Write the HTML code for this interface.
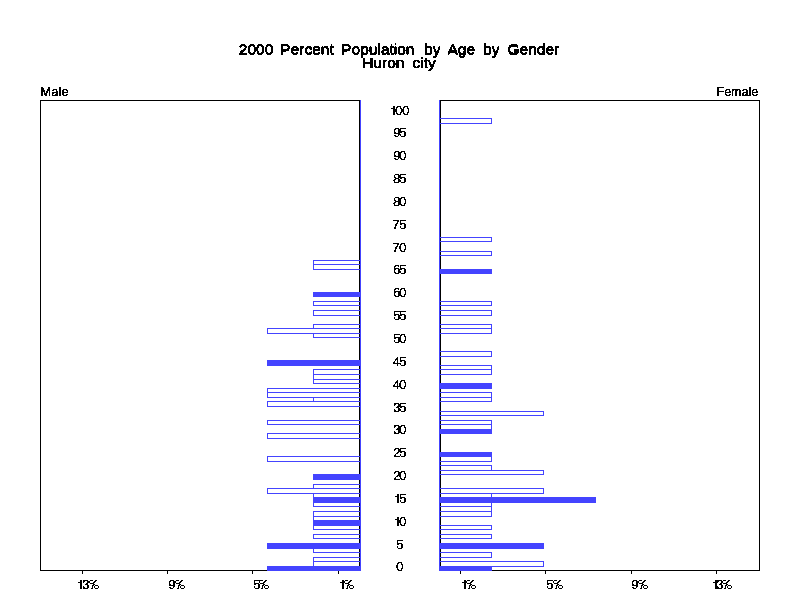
<!DOCTYPE html>
<html><head><meta charset="utf-8"><title>2000 Percent Population by Age by Gender</title>
<style>
html,body{margin:0;padding:0;background:#fff;}
body{width:800px;height:600px;position:relative;overflow:hidden;font-family:"Liberation Sans",sans-serif;color:#000;}
svg{position:absolute;left:0;top:0;}
.t{position:absolute;white-space:nowrap;line-height:1;}
.title{left:0;width:798px;text-align:center;font-size:15.5px;word-spacing:3.7px;-webkit-text-stroke:0.45px #000;}
.age{left:350px;width:100px;text-align:center;font-size:12.5px;}
.xl{font-size:12.5px;}
.lab{font-size:12.5px;-webkit-text-stroke:0.25px #000;letter-spacing:0.35px;}
.g{position:absolute;font-size:12.5px;line-height:1;transform-origin:0 0;white-space:nowrap;-webkit-text-stroke:0.14px #000;}
</style></head><body>
<svg width="800" height="600" viewBox="0 0 800 600" shape-rendering="crispEdges">
<defs><filter id="thr" x="0" y="0" width="100%" height="100%" color-interpolation-filters="sRGB"><feComponentTransfer><feFuncA type="discrete" tableValues="0 0 1 1 1"/></feComponentTransfer></filter><filter id="thr2" x="0" y="0" width="100%" height="100%" color-interpolation-filters="sRGB"><feComponentTransfer><feFuncA type="discrete" tableValues="0 0 0 0 0 0 0 1 1 1 1 1 1 1 1 1"/></feComponentTransfer></filter></defs>
<rect x="40" y="100" width="320" height="1" fill="#000"/>
<rect x="40" y="570" width="320" height="1" fill="#000"/>
<rect x="40" y="100" width="1" height="471" fill="#000"/>
<rect x="359" y="100" width="1" height="471" fill="#000"/>
<rect x="440" y="100" width="320" height="1" fill="#000"/>
<rect x="440" y="570" width="320" height="1" fill="#000"/>
<rect x="440" y="100" width="1" height="471" fill="#000"/>
<rect x="759" y="100" width="1" height="471" fill="#000"/>
<rect x="338" y="571" width="1" height="3" fill="#000"/>
<rect x="460" y="571" width="1" height="3" fill="#000"/>
<rect x="252" y="571" width="1" height="3" fill="#000"/>
<rect x="545" y="571" width="1" height="3" fill="#000"/>
<rect x="167" y="571" width="1" height="3" fill="#000"/>
<rect x="631" y="571" width="1" height="3" fill="#000"/>
<rect x="82" y="571" width="1" height="3" fill="#000"/>
<rect x="716" y="571" width="1" height="3" fill="#000"/>
<rect x="360" y="100" width="1" height="471" fill="#4444ff"/>
<rect x="439" y="100" width="1" height="471" fill="#4444ff"/>
<rect x="313" y="260" width="48" height="1" fill="#4444ff"/>
<rect x="313" y="264" width="48" height="1" fill="#4444ff"/>
<rect x="313" y="260" width="1" height="5" fill="#4444ff"/>
<rect x="313" y="264" width="48" height="1" fill="#4444ff"/>
<rect x="313" y="269" width="48" height="1" fill="#4444ff"/>
<rect x="313" y="264" width="1" height="6" fill="#4444ff"/>
<rect x="313" y="292" width="48" height="5" fill="#4444ff"/>
<rect x="313" y="301" width="48" height="1" fill="#4444ff"/>
<rect x="313" y="305" width="48" height="1" fill="#4444ff"/>
<rect x="313" y="301" width="1" height="5" fill="#4444ff"/>
<rect x="313" y="310" width="48" height="1" fill="#4444ff"/>
<rect x="313" y="315" width="48" height="1" fill="#4444ff"/>
<rect x="313" y="310" width="1" height="6" fill="#4444ff"/>
<rect x="313" y="324" width="48" height="1" fill="#4444ff"/>
<rect x="313" y="328" width="48" height="1" fill="#4444ff"/>
<rect x="313" y="324" width="1" height="5" fill="#4444ff"/>
<rect x="267" y="328" width="94" height="1" fill="#4444ff"/>
<rect x="267" y="333" width="94" height="1" fill="#4444ff"/>
<rect x="267" y="328" width="1" height="6" fill="#4444ff"/>
<rect x="313" y="333" width="48" height="1" fill="#4444ff"/>
<rect x="313" y="337" width="48" height="1" fill="#4444ff"/>
<rect x="313" y="333" width="1" height="5" fill="#4444ff"/>
<rect x="267" y="360" width="94" height="6" fill="#4444ff"/>
<rect x="313" y="369" width="48" height="1" fill="#4444ff"/>
<rect x="313" y="374" width="48" height="1" fill="#4444ff"/>
<rect x="313" y="369" width="1" height="6" fill="#4444ff"/>
<rect x="313" y="374" width="48" height="1" fill="#4444ff"/>
<rect x="313" y="379" width="48" height="1" fill="#4444ff"/>
<rect x="313" y="374" width="1" height="6" fill="#4444ff"/>
<rect x="313" y="379" width="48" height="1" fill="#4444ff"/>
<rect x="313" y="383" width="48" height="1" fill="#4444ff"/>
<rect x="313" y="379" width="1" height="5" fill="#4444ff"/>
<rect x="267" y="388" width="94" height="1" fill="#4444ff"/>
<rect x="267" y="392" width="94" height="1" fill="#4444ff"/>
<rect x="267" y="388" width="1" height="5" fill="#4444ff"/>
<rect x="267" y="392" width="94" height="1" fill="#4444ff"/>
<rect x="267" y="397" width="94" height="1" fill="#4444ff"/>
<rect x="267" y="392" width="1" height="6" fill="#4444ff"/>
<rect x="313" y="397" width="48" height="1" fill="#4444ff"/>
<rect x="313" y="401" width="48" height="1" fill="#4444ff"/>
<rect x="313" y="397" width="1" height="5" fill="#4444ff"/>
<rect x="267" y="401" width="94" height="1" fill="#4444ff"/>
<rect x="267" y="406" width="94" height="1" fill="#4444ff"/>
<rect x="267" y="401" width="1" height="6" fill="#4444ff"/>
<rect x="267" y="420" width="94" height="1" fill="#4444ff"/>
<rect x="267" y="424" width="94" height="1" fill="#4444ff"/>
<rect x="267" y="420" width="1" height="5" fill="#4444ff"/>
<rect x="267" y="433" width="94" height="1" fill="#4444ff"/>
<rect x="267" y="438" width="94" height="1" fill="#4444ff"/>
<rect x="267" y="433" width="1" height="6" fill="#4444ff"/>
<rect x="267" y="456" width="94" height="1" fill="#4444ff"/>
<rect x="267" y="461" width="94" height="1" fill="#4444ff"/>
<rect x="267" y="456" width="1" height="6" fill="#4444ff"/>
<rect x="313" y="474" width="48" height="6" fill="#4444ff"/>
<rect x="313" y="484" width="48" height="1" fill="#4444ff"/>
<rect x="313" y="488" width="48" height="1" fill="#4444ff"/>
<rect x="313" y="484" width="1" height="5" fill="#4444ff"/>
<rect x="267" y="488" width="94" height="1" fill="#4444ff"/>
<rect x="267" y="493" width="94" height="1" fill="#4444ff"/>
<rect x="267" y="488" width="1" height="6" fill="#4444ff"/>
<rect x="313" y="493" width="48" height="1" fill="#4444ff"/>
<rect x="313" y="497" width="48" height="1" fill="#4444ff"/>
<rect x="313" y="493" width="1" height="5" fill="#4444ff"/>
<rect x="313" y="497" width="48" height="6" fill="#4444ff"/>
<rect x="313" y="502" width="48" height="1" fill="#4444ff"/>
<rect x="313" y="506" width="48" height="1" fill="#4444ff"/>
<rect x="313" y="502" width="1" height="5" fill="#4444ff"/>
<rect x="313" y="511" width="48" height="1" fill="#4444ff"/>
<rect x="313" y="516" width="48" height="1" fill="#4444ff"/>
<rect x="313" y="511" width="1" height="6" fill="#4444ff"/>
<rect x="313" y="516" width="48" height="1" fill="#4444ff"/>
<rect x="313" y="520" width="48" height="1" fill="#4444ff"/>
<rect x="313" y="516" width="1" height="5" fill="#4444ff"/>
<rect x="313" y="520" width="48" height="6" fill="#4444ff"/>
<rect x="313" y="525" width="48" height="1" fill="#4444ff"/>
<rect x="313" y="529" width="48" height="1" fill="#4444ff"/>
<rect x="313" y="525" width="1" height="5" fill="#4444ff"/>
<rect x="313" y="534" width="48" height="1" fill="#4444ff"/>
<rect x="313" y="538" width="48" height="1" fill="#4444ff"/>
<rect x="313" y="534" width="1" height="5" fill="#4444ff"/>
<rect x="267" y="543" width="94" height="6" fill="#4444ff"/>
<rect x="313" y="548" width="48" height="1" fill="#4444ff"/>
<rect x="313" y="552" width="48" height="1" fill="#4444ff"/>
<rect x="313" y="548" width="1" height="5" fill="#4444ff"/>
<rect x="313" y="557" width="48" height="1" fill="#4444ff"/>
<rect x="313" y="561" width="48" height="1" fill="#4444ff"/>
<rect x="313" y="557" width="1" height="5" fill="#4444ff"/>
<rect x="313" y="561" width="48" height="1" fill="#4444ff"/>
<rect x="313" y="566" width="48" height="1" fill="#4444ff"/>
<rect x="313" y="561" width="1" height="6" fill="#4444ff"/>
<rect x="267" y="566" width="94" height="5" fill="#4444ff"/>
<rect x="439" y="118" width="53" height="1" fill="#4444ff"/>
<rect x="439" y="123" width="53" height="1" fill="#4444ff"/>
<rect x="491" y="118" width="1" height="6" fill="#4444ff"/>
<rect x="439" y="237" width="53" height="1" fill="#4444ff"/>
<rect x="439" y="241" width="53" height="1" fill="#4444ff"/>
<rect x="491" y="237" width="1" height="5" fill="#4444ff"/>
<rect x="439" y="251" width="53" height="1" fill="#4444ff"/>
<rect x="439" y="255" width="53" height="1" fill="#4444ff"/>
<rect x="491" y="251" width="1" height="5" fill="#4444ff"/>
<rect x="439" y="269" width="53" height="5" fill="#4444ff"/>
<rect x="439" y="301" width="53" height="1" fill="#4444ff"/>
<rect x="439" y="305" width="53" height="1" fill="#4444ff"/>
<rect x="491" y="301" width="1" height="5" fill="#4444ff"/>
<rect x="439" y="310" width="53" height="1" fill="#4444ff"/>
<rect x="439" y="315" width="53" height="1" fill="#4444ff"/>
<rect x="491" y="310" width="1" height="6" fill="#4444ff"/>
<rect x="439" y="324" width="53" height="1" fill="#4444ff"/>
<rect x="439" y="328" width="53" height="1" fill="#4444ff"/>
<rect x="491" y="324" width="1" height="5" fill="#4444ff"/>
<rect x="439" y="328" width="53" height="1" fill="#4444ff"/>
<rect x="439" y="333" width="53" height="1" fill="#4444ff"/>
<rect x="491" y="328" width="1" height="6" fill="#4444ff"/>
<rect x="439" y="351" width="53" height="1" fill="#4444ff"/>
<rect x="439" y="356" width="53" height="1" fill="#4444ff"/>
<rect x="491" y="351" width="1" height="6" fill="#4444ff"/>
<rect x="439" y="365" width="53" height="1" fill="#4444ff"/>
<rect x="439" y="369" width="53" height="1" fill="#4444ff"/>
<rect x="491" y="365" width="1" height="5" fill="#4444ff"/>
<rect x="439" y="369" width="53" height="1" fill="#4444ff"/>
<rect x="439" y="374" width="53" height="1" fill="#4444ff"/>
<rect x="491" y="369" width="1" height="6" fill="#4444ff"/>
<rect x="439" y="383" width="53" height="6" fill="#4444ff"/>
<rect x="439" y="392" width="53" height="1" fill="#4444ff"/>
<rect x="439" y="397" width="53" height="1" fill="#4444ff"/>
<rect x="491" y="392" width="1" height="6" fill="#4444ff"/>
<rect x="439" y="397" width="53" height="1" fill="#4444ff"/>
<rect x="439" y="401" width="53" height="1" fill="#4444ff"/>
<rect x="491" y="397" width="1" height="5" fill="#4444ff"/>
<rect x="439" y="411" width="105" height="1" fill="#4444ff"/>
<rect x="439" y="415" width="105" height="1" fill="#4444ff"/>
<rect x="543" y="411" width="1" height="5" fill="#4444ff"/>
<rect x="439" y="420" width="53" height="1" fill="#4444ff"/>
<rect x="439" y="424" width="53" height="1" fill="#4444ff"/>
<rect x="491" y="420" width="1" height="5" fill="#4444ff"/>
<rect x="439" y="424" width="53" height="1" fill="#4444ff"/>
<rect x="439" y="429" width="53" height="1" fill="#4444ff"/>
<rect x="491" y="424" width="1" height="6" fill="#4444ff"/>
<rect x="439" y="429" width="53" height="5" fill="#4444ff"/>
<rect x="439" y="452" width="53" height="5" fill="#4444ff"/>
<rect x="439" y="456" width="53" height="1" fill="#4444ff"/>
<rect x="439" y="461" width="53" height="1" fill="#4444ff"/>
<rect x="491" y="456" width="1" height="6" fill="#4444ff"/>
<rect x="439" y="465" width="53" height="1" fill="#4444ff"/>
<rect x="439" y="470" width="53" height="1" fill="#4444ff"/>
<rect x="491" y="465" width="1" height="6" fill="#4444ff"/>
<rect x="439" y="470" width="105" height="1" fill="#4444ff"/>
<rect x="439" y="474" width="105" height="1" fill="#4444ff"/>
<rect x="543" y="470" width="1" height="5" fill="#4444ff"/>
<rect x="439" y="488" width="105" height="1" fill="#4444ff"/>
<rect x="439" y="493" width="105" height="1" fill="#4444ff"/>
<rect x="543" y="488" width="1" height="6" fill="#4444ff"/>
<rect x="439" y="493" width="53" height="1" fill="#4444ff"/>
<rect x="439" y="497" width="53" height="1" fill="#4444ff"/>
<rect x="491" y="493" width="1" height="5" fill="#4444ff"/>
<rect x="439" y="497" width="157" height="6" fill="#4444ff"/>
<rect x="439" y="502" width="53" height="1" fill="#4444ff"/>
<rect x="439" y="506" width="53" height="1" fill="#4444ff"/>
<rect x="491" y="502" width="1" height="5" fill="#4444ff"/>
<rect x="439" y="506" width="53" height="1" fill="#4444ff"/>
<rect x="439" y="511" width="53" height="1" fill="#4444ff"/>
<rect x="491" y="506" width="1" height="6" fill="#4444ff"/>
<rect x="439" y="511" width="53" height="1" fill="#4444ff"/>
<rect x="439" y="516" width="53" height="1" fill="#4444ff"/>
<rect x="491" y="511" width="1" height="6" fill="#4444ff"/>
<rect x="439" y="525" width="53" height="1" fill="#4444ff"/>
<rect x="439" y="529" width="53" height="1" fill="#4444ff"/>
<rect x="491" y="525" width="1" height="5" fill="#4444ff"/>
<rect x="439" y="534" width="53" height="1" fill="#4444ff"/>
<rect x="439" y="538" width="53" height="1" fill="#4444ff"/>
<rect x="491" y="534" width="1" height="5" fill="#4444ff"/>
<rect x="439" y="543" width="105" height="6" fill="#4444ff"/>
<rect x="439" y="552" width="53" height="1" fill="#4444ff"/>
<rect x="439" y="557" width="53" height="1" fill="#4444ff"/>
<rect x="491" y="552" width="1" height="6" fill="#4444ff"/>
<rect x="439" y="561" width="105" height="1" fill="#4444ff"/>
<rect x="439" y="566" width="105" height="1" fill="#4444ff"/>
<rect x="543" y="561" width="1" height="6" fill="#4444ff"/>
<rect x="439" y="566" width="53" height="5" fill="#4444ff"/>
<rect x="397" y="517" width="2" height="9" fill="#000"/>
<rect x="395" y="519" width="2" height="1" fill="#000"/>
<rect x="397" y="494" width="2" height="9" fill="#000"/>
<rect x="395" y="496" width="2" height="1" fill="#000"/>
<rect x="393" y="106" width="2" height="9" fill="#000"/>
<rect x="391" y="108" width="2" height="1" fill="#000"/>
<rect x="80" y="580" width="2" height="9" fill="#000"/>
<rect x="78" y="582" width="2" height="1" fill="#000"/>
<rect x="90" y="580" width="3" height="1" fill="#000"/>
<rect x="95" y="580" width="2" height="1" fill="#000"/>
<rect x="89" y="581" width="1" height="1" fill="#000"/>
<rect x="94" y="581" width="2" height="1" fill="#000"/>
<rect x="89" y="582" width="1" height="1" fill="#000"/>
<rect x="93" y="582" width="2" height="1" fill="#000"/>
<rect x="90" y="583" width="4" height="1" fill="#000"/>
<rect x="93" y="584" width="2" height="1" fill="#000"/>
<rect x="92" y="585" width="2" height="1" fill="#000"/>
<rect x="95" y="585" width="3" height="1" fill="#000"/>
<rect x="92" y="586" width="1" height="1" fill="#000"/>
<rect x="94" y="586" width="1" height="1" fill="#000"/>
<rect x="98" y="586" width="1" height="1" fill="#000"/>
<rect x="92" y="587" width="1" height="1" fill="#000"/>
<rect x="94" y="587" width="1" height="1" fill="#000"/>
<rect x="98" y="587" width="1" height="1" fill="#000"/>
<rect x="91" y="588" width="2" height="1" fill="#000"/>
<rect x="95" y="588" width="3" height="1" fill="#000"/>
<rect x="176" y="580" width="3" height="1" fill="#000"/>
<rect x="181" y="580" width="2" height="1" fill="#000"/>
<rect x="175" y="581" width="1" height="1" fill="#000"/>
<rect x="180" y="581" width="2" height="1" fill="#000"/>
<rect x="175" y="582" width="1" height="1" fill="#000"/>
<rect x="179" y="582" width="2" height="1" fill="#000"/>
<rect x="176" y="583" width="4" height="1" fill="#000"/>
<rect x="179" y="584" width="2" height="1" fill="#000"/>
<rect x="178" y="585" width="2" height="1" fill="#000"/>
<rect x="181" y="585" width="3" height="1" fill="#000"/>
<rect x="178" y="586" width="1" height="1" fill="#000"/>
<rect x="180" y="586" width="1" height="1" fill="#000"/>
<rect x="184" y="586" width="1" height="1" fill="#000"/>
<rect x="178" y="587" width="1" height="1" fill="#000"/>
<rect x="180" y="587" width="1" height="1" fill="#000"/>
<rect x="184" y="587" width="1" height="1" fill="#000"/>
<rect x="177" y="588" width="2" height="1" fill="#000"/>
<rect x="181" y="588" width="3" height="1" fill="#000"/>
<rect x="260" y="580" width="3" height="1" fill="#000"/>
<rect x="265" y="580" width="2" height="1" fill="#000"/>
<rect x="259" y="581" width="1" height="1" fill="#000"/>
<rect x="264" y="581" width="2" height="1" fill="#000"/>
<rect x="259" y="582" width="1" height="1" fill="#000"/>
<rect x="263" y="582" width="2" height="1" fill="#000"/>
<rect x="260" y="583" width="4" height="1" fill="#000"/>
<rect x="263" y="584" width="2" height="1" fill="#000"/>
<rect x="262" y="585" width="2" height="1" fill="#000"/>
<rect x="265" y="585" width="3" height="1" fill="#000"/>
<rect x="262" y="586" width="1" height="1" fill="#000"/>
<rect x="264" y="586" width="1" height="1" fill="#000"/>
<rect x="268" y="586" width="1" height="1" fill="#000"/>
<rect x="262" y="587" width="1" height="1" fill="#000"/>
<rect x="264" y="587" width="1" height="1" fill="#000"/>
<rect x="268" y="587" width="1" height="1" fill="#000"/>
<rect x="261" y="588" width="2" height="1" fill="#000"/>
<rect x="265" y="588" width="3" height="1" fill="#000"/>
<rect x="342" y="580" width="2" height="9" fill="#000"/>
<rect x="340" y="582" width="2" height="1" fill="#000"/>
<rect x="345" y="580" width="3" height="1" fill="#000"/>
<rect x="350" y="580" width="2" height="1" fill="#000"/>
<rect x="344" y="581" width="1" height="1" fill="#000"/>
<rect x="349" y="581" width="2" height="1" fill="#000"/>
<rect x="344" y="582" width="1" height="1" fill="#000"/>
<rect x="348" y="582" width="2" height="1" fill="#000"/>
<rect x="345" y="583" width="4" height="1" fill="#000"/>
<rect x="348" y="584" width="2" height="1" fill="#000"/>
<rect x="347" y="585" width="2" height="1" fill="#000"/>
<rect x="350" y="585" width="3" height="1" fill="#000"/>
<rect x="347" y="586" width="1" height="1" fill="#000"/>
<rect x="349" y="586" width="1" height="1" fill="#000"/>
<rect x="353" y="586" width="1" height="1" fill="#000"/>
<rect x="347" y="587" width="1" height="1" fill="#000"/>
<rect x="349" y="587" width="1" height="1" fill="#000"/>
<rect x="353" y="587" width="1" height="1" fill="#000"/>
<rect x="346" y="588" width="2" height="1" fill="#000"/>
<rect x="350" y="588" width="3" height="1" fill="#000"/>
<rect x="464" y="580" width="2" height="9" fill="#000"/>
<rect x="462" y="582" width="2" height="1" fill="#000"/>
<rect x="467" y="580" width="3" height="1" fill="#000"/>
<rect x="472" y="580" width="2" height="1" fill="#000"/>
<rect x="466" y="581" width="1" height="1" fill="#000"/>
<rect x="471" y="581" width="2" height="1" fill="#000"/>
<rect x="466" y="582" width="1" height="1" fill="#000"/>
<rect x="470" y="582" width="2" height="1" fill="#000"/>
<rect x="467" y="583" width="4" height="1" fill="#000"/>
<rect x="470" y="584" width="2" height="1" fill="#000"/>
<rect x="469" y="585" width="2" height="1" fill="#000"/>
<rect x="472" y="585" width="3" height="1" fill="#000"/>
<rect x="469" y="586" width="1" height="1" fill="#000"/>
<rect x="471" y="586" width="1" height="1" fill="#000"/>
<rect x="475" y="586" width="1" height="1" fill="#000"/>
<rect x="469" y="587" width="1" height="1" fill="#000"/>
<rect x="471" y="587" width="1" height="1" fill="#000"/>
<rect x="475" y="587" width="1" height="1" fill="#000"/>
<rect x="468" y="588" width="2" height="1" fill="#000"/>
<rect x="472" y="588" width="3" height="1" fill="#000"/>
<rect x="554" y="580" width="3" height="1" fill="#000"/>
<rect x="559" y="580" width="2" height="1" fill="#000"/>
<rect x="553" y="581" width="1" height="1" fill="#000"/>
<rect x="558" y="581" width="2" height="1" fill="#000"/>
<rect x="553" y="582" width="1" height="1" fill="#000"/>
<rect x="557" y="582" width="2" height="1" fill="#000"/>
<rect x="554" y="583" width="4" height="1" fill="#000"/>
<rect x="557" y="584" width="2" height="1" fill="#000"/>
<rect x="556" y="585" width="2" height="1" fill="#000"/>
<rect x="559" y="585" width="3" height="1" fill="#000"/>
<rect x="556" y="586" width="1" height="1" fill="#000"/>
<rect x="558" y="586" width="1" height="1" fill="#000"/>
<rect x="562" y="586" width="1" height="1" fill="#000"/>
<rect x="556" y="587" width="1" height="1" fill="#000"/>
<rect x="558" y="587" width="1" height="1" fill="#000"/>
<rect x="562" y="587" width="1" height="1" fill="#000"/>
<rect x="555" y="588" width="2" height="1" fill="#000"/>
<rect x="559" y="588" width="3" height="1" fill="#000"/>
<rect x="639" y="580" width="3" height="1" fill="#000"/>
<rect x="644" y="580" width="2" height="1" fill="#000"/>
<rect x="638" y="581" width="1" height="1" fill="#000"/>
<rect x="643" y="581" width="2" height="1" fill="#000"/>
<rect x="638" y="582" width="1" height="1" fill="#000"/>
<rect x="642" y="582" width="2" height="1" fill="#000"/>
<rect x="639" y="583" width="4" height="1" fill="#000"/>
<rect x="642" y="584" width="2" height="1" fill="#000"/>
<rect x="641" y="585" width="2" height="1" fill="#000"/>
<rect x="644" y="585" width="3" height="1" fill="#000"/>
<rect x="641" y="586" width="1" height="1" fill="#000"/>
<rect x="643" y="586" width="1" height="1" fill="#000"/>
<rect x="647" y="586" width="1" height="1" fill="#000"/>
<rect x="641" y="587" width="1" height="1" fill="#000"/>
<rect x="643" y="587" width="1" height="1" fill="#000"/>
<rect x="647" y="587" width="1" height="1" fill="#000"/>
<rect x="640" y="588" width="2" height="1" fill="#000"/>
<rect x="644" y="588" width="3" height="1" fill="#000"/>
<rect x="715" y="580" width="2" height="9" fill="#000"/>
<rect x="713" y="582" width="2" height="1" fill="#000"/>
<rect x="723" y="580" width="3" height="1" fill="#000"/>
<rect x="728" y="580" width="2" height="1" fill="#000"/>
<rect x="722" y="581" width="1" height="1" fill="#000"/>
<rect x="727" y="581" width="2" height="1" fill="#000"/>
<rect x="722" y="582" width="1" height="1" fill="#000"/>
<rect x="726" y="582" width="2" height="1" fill="#000"/>
<rect x="723" y="583" width="4" height="1" fill="#000"/>
<rect x="726" y="584" width="2" height="1" fill="#000"/>
<rect x="725" y="585" width="2" height="1" fill="#000"/>
<rect x="728" y="585" width="3" height="1" fill="#000"/>
<rect x="725" y="586" width="1" height="1" fill="#000"/>
<rect x="727" y="586" width="1" height="1" fill="#000"/>
<rect x="731" y="586" width="1" height="1" fill="#000"/>
<rect x="725" y="587" width="1" height="1" fill="#000"/>
<rect x="727" y="587" width="1" height="1" fill="#000"/>
<rect x="731" y="587" width="1" height="1" fill="#000"/>
<rect x="724" y="588" width="2" height="1" fill="#000"/>
<rect x="728" y="588" width="3" height="1" fill="#000"/>
</svg>
<div id="txt" style="position:absolute;left:0;top:0;width:800px;height:600px;filter:url(#thr)">
<div class="t title" style="top:41px;-webkit-text-stroke:0.12px #000">2000 <span style="position:relative;left:-1px">Percent</span> <span style="position:relative;left:-1.5px">Population</span> by Age by Gender</div>
<div class="t title" style="top:42px;-webkit-text-stroke:0.12px #000">2000 <span style="position:relative;left:-1px">Percent</span> <span style="position:relative;left:-1.5px">Population</span> by Age by Gender</div>
<div class="t title" style="top:55px">Huron city</div>
<div class="t lab" style="left:40.5px;top:86px">Male</div>
<div class="t lab" style="left:716.5px;top:86px;letter-spacing:0">Female</div>
</div>
<div id="txt2" style="position:absolute;left:0;top:0;width:800px;height:600px;filter:url(#thr2)">
<div class="g" style="left:395.56px;top:561.00px;transform:scaleX(1.077)">0</div>
<div class="g" style="left:395.56px;top:539.00px;transform:scaleX(1.077)">5</div>
<div class="g" style="left:398.56px;top:516.00px;transform:scaleX(1.077)">0</div>
<div class="g" style="left:398.56px;top:493.00px;transform:scaleX(1.077)">5</div>
<div class="g" style="left:392.56px;top:470.00px;transform:scaleX(1.077)">2</div>
<div class="g" style="left:399.31px;top:470.00px;transform:scaleX(1.077)">0</div>
<div class="g" style="left:392.56px;top:447.00px;transform:scaleX(1.077)">2</div>
<div class="g" style="left:399.31px;top:447.00px;transform:scaleX(1.077)">5</div>
<div class="g" style="left:392.56px;top:424.00px;transform:scaleX(1.077)">3</div>
<div class="g" style="left:399.31px;top:424.00px;transform:scaleX(1.077)">0</div>
<div class="g" style="left:392.56px;top:402.00px;transform:scaleX(1.077)">3</div>
<div class="g" style="left:399.31px;top:402.00px;transform:scaleX(1.077)">5</div>
<div class="g" style="left:392.85px;top:379.00px;transform:scaleX(1.000)">4</div>
<div class="g" style="left:399.31px;top:379.00px;transform:scaleX(1.077)">0</div>
<div class="g" style="left:392.85px;top:356.00px;transform:scaleX(1.000)">4</div>
<div class="g" style="left:399.31px;top:356.00px;transform:scaleX(1.077)">5</div>
<div class="g" style="left:392.56px;top:333.00px;transform:scaleX(1.077)">5</div>
<div class="g" style="left:399.31px;top:333.00px;transform:scaleX(1.077)">0</div>
<div class="g" style="left:392.56px;top:310.00px;transform:scaleX(1.077)">5</div>
<div class="g" style="left:399.31px;top:310.00px;transform:scaleX(1.077)">5</div>
<div class="g" style="left:392.56px;top:287.00px;transform:scaleX(1.077)">6</div>
<div class="g" style="left:399.31px;top:287.00px;transform:scaleX(1.077)">0</div>
<div class="g" style="left:392.56px;top:264.00px;transform:scaleX(1.077)">6</div>
<div class="g" style="left:399.31px;top:264.00px;transform:scaleX(1.077)">5</div>
<div class="g" style="left:392.49px;top:242.00px;transform:scaleX(1.105)">7</div>
<div class="g" style="left:399.31px;top:242.00px;transform:scaleX(1.077)">0</div>
<div class="g" style="left:392.49px;top:219.00px;transform:scaleX(1.105)">7</div>
<div class="g" style="left:399.31px;top:219.00px;transform:scaleX(1.077)">5</div>
<div class="g" style="left:392.56px;top:196.00px;transform:scaleX(1.077)">8</div>
<div class="g" style="left:399.31px;top:196.00px;transform:scaleX(1.077)">0</div>
<div class="g" style="left:392.56px;top:173.00px;transform:scaleX(1.077)">8</div>
<div class="g" style="left:399.31px;top:173.00px;transform:scaleX(1.077)">5</div>
<div class="g" style="left:392.56px;top:150.00px;transform:scaleX(1.077)">9</div>
<div class="g" style="left:399.31px;top:150.00px;transform:scaleX(1.077)">0</div>
<div class="g" style="left:392.56px;top:127.00px;transform:scaleX(1.077)">9</div>
<div class="g" style="left:399.31px;top:127.00px;transform:scaleX(1.077)">5</div>
<div class="g" style="left:394.56px;top:105.00px;transform:scaleX(1.077)">0</div>
<div class="g" style="left:401.56px;top:105.00px;transform:scaleX(1.077)">0</div>
<div class="g" style="left:81.51px;top:579.00px;transform:scaleX(1.077)">3</div>
<div class="g" style="left:167.56px;top:579.00px;transform:scaleX(1.077)">9</div>
<div class="g" style="left:252.56px;top:579.00px;transform:scaleX(1.077)">5</div>
<div class="g" style="left:545.56px;top:579.00px;transform:scaleX(1.077)">5</div>
<div class="g" style="left:630.56px;top:579.00px;transform:scaleX(1.077)">9</div>
<div class="g" style="left:716.01px;top:579.00px;transform:scaleX(1.077)">3</div>
</div>
</body></html>
